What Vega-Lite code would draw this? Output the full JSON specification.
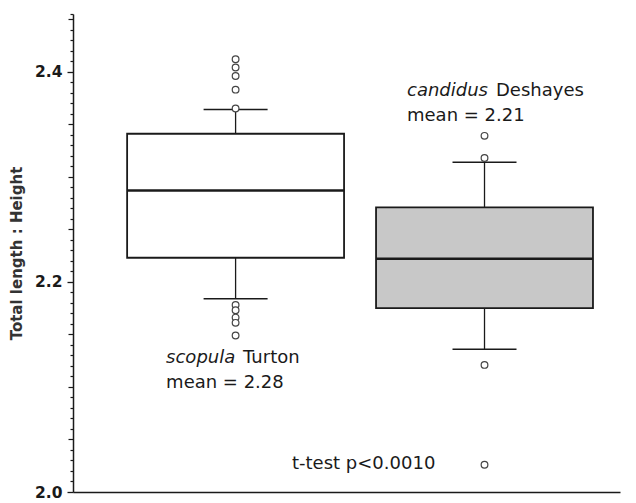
{
  "$schema": "https://vega.github.io/schema/vega-lite/v6.json",
  "width": 547,
  "height": 478,
  "autosize": "none",
  "padding": {"left": 73, "top": 14, "right": 16, "bottom": 11},
  "background": "white",
  "config": {"view": {"stroke": null}, "font": "DejaVu Sans"},
  "resolve": {"scale": {"y": "shared"}, "axis": {"y": "independent"}},
  "datasets": {
    "boxes": [
      {"species": "scopula", "lower": 2.184, "q1": 2.223, "median": 2.287, "q3": 2.341, "upper": 2.364},
      {"species": "candidus", "lower": 2.136, "q1": 2.175, "median": 2.222, "q3": 2.271, "upper": 2.314}
    ],
    "outliers": [
      {"species": "scopula", "value": 2.412},
      {"species": "scopula", "value": 2.404},
      {"species": "scopula", "value": 2.396},
      {"species": "scopula", "value": 2.383},
      {"species": "scopula", "value": 2.365},
      {"species": "scopula", "value": 2.178},
      {"species": "scopula", "value": 2.173},
      {"species": "scopula", "value": 2.166},
      {"species": "scopula", "value": 2.161},
      {"species": "scopula", "value": 2.149},
      {"species": "candidus", "value": 2.339},
      {"species": "candidus", "value": 2.318},
      {"species": "candidus", "value": 2.121},
      {"species": "candidus", "value": 2.026}
    ],
    "labels": [
      {"species": "scopula", "y": 2.1229, "role": "name", "text": "scopula"},
      {"species": "scopula", "y": 2.1229, "role": "author", "text": "Turton"},
      {"species": "scopula", "y": 2.0987, "role": "mean", "text": "mean = 2.28"},
      {"species": "candidus", "y": 2.3765, "role": "name", "text": "candidus"},
      {"species": "candidus", "y": 2.3765, "role": "author", "text": "Deshayes"},
      {"species": "candidus", "y": 2.3536, "role": "mean", "text": "mean = 2.21"},
      {"species": "candidus", "y": 2.0216, "role": "test", "text": "t-test p<0.0010"}
    ]
  },
  "encoding": {
    "x": {
      "field": "species", "type": "nominal", "sort": ["scopula", "candidus"],
      "scale": {"type": "band", "paddingInner": 0.1285, "paddingOuter": 0.163, "align": 0.667},
      "axis": {"labels": false, "ticks": false, "title": null, "domainColor": "#1a1a1a", "domainWidth": 1.5, "grid": false}
    }
  },
  "layer": [
    {
      "data": {"name": "boxes"},
      "mark": {"type": "rule", "stroke": "#1a1a1a", "strokeWidth": 1.3},
      "encoding": {
        "y": {
          "field": "lower", "type": "quantitative",
          "scale": {"domain": [2.0, 2.455], "nice": false, "zero": false},
          "axis": {
            "orient": "left",
            "values": [2.0, 2.2, 2.4], "format": ".1f", "grid": false,
            "title": "Total length : Height", "titleFont": "DejaVu Sans", "titleFontSize": 15, "titleFontWeight": "bold", "titleColor": "#333", "titlePadding": 10,
            "labelFont": "DejaVu Sans", "labelFontSize": 15.5, "labelFontWeight": "bold", "labelColor": "#1a1a1a", "labelPadding": 5,
            "tickSize": 6, "tickColor": "#1a1a1a", "tickWidth": 1.3,
            "domainColor": "#1a1a1a", "domainWidth": 1.5
          }
        },
        "y2": {"field": "upper"}
      }
    },
    {
      "data": {"name": "boxes"},
      "mark": {"type": "bar", "stroke": "#1a1a1a", "strokeWidth": 1.8},
      "encoding": {
        "y": {"field": "q1", "type": "quantitative", "axis": null},
        "y2": {"field": "q3"},
        "fill": {"field": "species", "type": "nominal", "scale": {"domain": ["scopula", "candidus"], "range": ["#ffffff", "#c8c8c8"]}, "legend": null}
      }
    },
    {
      "data": {"name": "boxes"},
      "mark": {"type": "tick", "color": "#1a1a1a", "opacity": 1, "size": 217, "thickness": 2.5},
      "encoding": {
        "y": {
          "field": "median", "type": "quantitative",
          "axis": {
            "orient": "left",
            "values": [2.01, 2.02, 2.03, 2.04, 2.06, 2.07, 2.08, 2.09, 2.11, 2.12, 2.13, 2.14, 2.16, 2.17, 2.18, 2.19, 2.21, 2.22, 2.23, 2.24, 2.26, 2.27, 2.28, 2.29, 2.31, 2.32, 2.33, 2.34, 2.36, 2.37, 2.38, 2.39, 2.41, 2.42, 2.43, 2.44, 2.455],
            "labels": false, "domain": false, "title": null, "grid": false,
            "tickSize": 3, "tickColor": "#1a1a1a", "tickWidth": 1.2
          }
        }
      }
    },
    {
      "data": {"name": "boxes"},
      "mark": {"type": "tick", "color": "#1a1a1a", "opacity": 1, "size": 64, "thickness": 1.5},
      "encoding": {
        "y": {
          "field": "upper", "type": "quantitative",
          "axis": {
            "orient": "left",
            "values": [2.05, 2.1, 2.15, 2.25, 2.3, 2.35, 2.45],
            "labels": false, "domain": false, "title": null, "grid": false,
            "tickSize": 5, "tickColor": "#1a1a1a", "tickWidth": 1.2
          }
        }
      }
    },
    {
      "data": {"name": "boxes"},
      "mark": {"type": "tick", "color": "#1a1a1a", "opacity": 1, "size": 64, "thickness": 1.5},
      "encoding": {"y": {"field": "lower", "type": "quantitative", "axis": null}}
    },
    {
      "data": {"name": "outliers"},
      "mark": {"type": "point", "shape": "circle", "size": 45, "filled": false, "stroke": "#444", "strokeWidth": 1.2, "fill": "white", "fillOpacity": 1, "opacity": 1},
      "encoding": {"y": {"field": "value", "type": "quantitative", "axis": null}}
    },
    {
      "data": {"name": "labels"},
      "transform": [{"filter": "datum.role === 'name' && datum.species === 'scopula'"}],
      "mark": {"type": "text", "align": "left", "baseline": "alphabetic", "dx": -69.5, "font": "DejaVu Sans", "fontSize": 18, "fontStyle": "italic", "color": "#1a1a1a"},
      "encoding": {"y": {"field": "y", "type": "quantitative", "axis": null}, "text": {"field": "text"}}
    },
    {
      "data": {"name": "labels"},
      "transform": [{"filter": "datum.role === 'author' && datum.species === 'scopula'"}],
      "mark": {"type": "text", "align": "left", "baseline": "alphabetic", "dx": 7.5, "font": "DejaVu Sans", "fontSize": 18, "color": "#1a1a1a"},
      "encoding": {"y": {"field": "y", "type": "quantitative", "axis": null}, "text": {"field": "text"}}
    },
    {
      "data": {"name": "labels"},
      "transform": [{"filter": "datum.role === 'mean' && datum.species === 'scopula'"}],
      "mark": {"type": "text", "align": "left", "baseline": "alphabetic", "dx": -69.5, "font": "DejaVu Sans", "fontSize": 18, "color": "#1a1a1a"},
      "encoding": {"y": {"field": "y", "type": "quantitative", "axis": null}, "text": {"field": "text"}}
    },
    {
      "data": {"name": "labels"},
      "transform": [{"filter": "datum.role === 'name' && datum.species === 'candidus'"}],
      "mark": {"type": "text", "align": "left", "baseline": "alphabetic", "dx": -77.5, "font": "DejaVu Sans", "fontSize": 18, "fontStyle": "italic", "color": "#1a1a1a"},
      "encoding": {"y": {"field": "y", "type": "quantitative", "axis": null}, "text": {"field": "text"}}
    },
    {
      "data": {"name": "labels"},
      "transform": [{"filter": "datum.role === 'author' && datum.species === 'candidus'"}],
      "mark": {"type": "text", "align": "left", "baseline": "alphabetic", "dx": 11.5, "font": "DejaVu Sans", "fontSize": 18, "color": "#1a1a1a"},
      "encoding": {"y": {"field": "y", "type": "quantitative", "axis": null}, "text": {"field": "text"}}
    },
    {
      "data": {"name": "labels"},
      "transform": [{"filter": "datum.role === 'mean' && datum.species === 'candidus'"}],
      "mark": {"type": "text", "align": "left", "baseline": "alphabetic", "dx": -77.5, "font": "DejaVu Sans", "fontSize": 18, "color": "#1a1a1a"},
      "encoding": {"y": {"field": "y", "type": "quantitative", "axis": null}, "text": {"field": "text"}}
    },
    {
      "data": {"name": "labels"},
      "transform": [{"filter": "datum.role === 'test'"}],
      "mark": {"type": "text", "align": "left", "baseline": "alphabetic", "dx": -192.5, "font": "DejaVu Sans", "fontSize": 18, "color": "#1a1a1a"},
      "encoding": {"y": {"field": "y", "type": "quantitative", "axis": null}, "text": {"field": "text"}}
    }
  ]
}
